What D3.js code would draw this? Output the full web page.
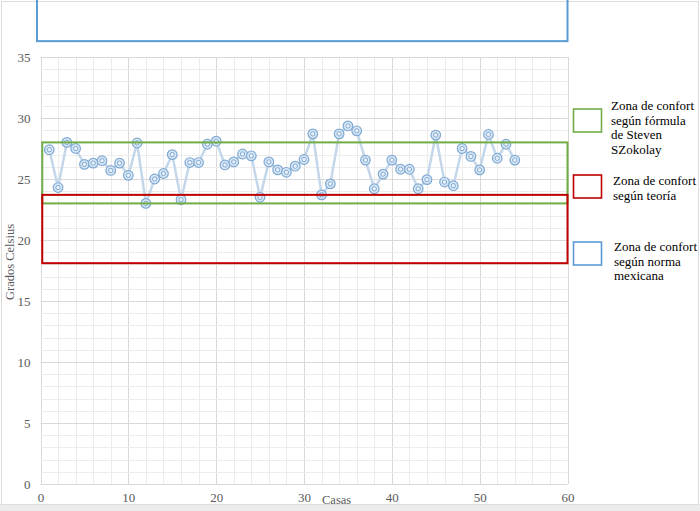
<!DOCTYPE html>
<html><head><meta charset="utf-8">
<script src="https://cdn.jsdelivr.net/npm/d3@7"></script>
<style>
html,body{margin:0;padding:0;background:#fff;}
svg{display:block;}
svg text{font-family:"Liberation Serif",serif !important;}
</style></head>
<body>
<svg id="chart" width="700" height="511"></svg>
<script>
// ---- data ----
const casas = d3.range(1, 55);
const temperaturas = [27.4,24.3,28.0,27.5,26.2,26.3,26.5,25.7,26.3,25.3,
  27.95,23.0,25.0,25.45,27.0,23.3,26.35,26.35,27.85,28.1,
  26.15,26.4,27.05,26.9,23.5,26.4,25.75,25.55,26.05,26.6,
  28.7,23.7,24.6,28.7,29.35,28.95,26.55,24.2,25.4,26.55,
  25.8,25.8,24.2,24.95,28.6,24.75,24.45,27.5,26.85,25.75,
  28.65,26.7,27.85,26.55];
const xTicks = [0,10,20,30,40,50,60];
const yTicks = [0,5,10,15,20,25,30,35];
const zoneNames = ["Zona de confort según fórmula de Steven SZokolay","Zona de confort según teoría","Zona de confort según norma mexicana"];
const zoneLow  = [23.0, 18.1, 36.3];
const zoneHigh = [28.0, 23.7, 40.5];
const zoneXStart = [0.2, 0.2, -0.4];
const zoneXEnd = [60, 60, 60];
const zoneColors = ["#70ad47","#c00000","#5b9bd5"];
const legendLines = [["Zona de confort","según fórmula","de Steven","SZokolay"],["Zona de confort","según teoría"],["Zona de confort","según norma","mexicana"]];

// ---- chart ----
const svg = d3.select("#chart");
const FONT = '"Liberation Serif", serif';
const x = d3.scaleLinear().domain([0,60]).range([40.5,567.5]);
const y = d3.scaleLinear().domain([0,35]).range([484,57]);

// outer frame
svg.append("rect").attr("x",0).attr("y",504).attr("width",700).attr("height",7).attr("fill","#ececec");
svg.append("rect").attr("x",1.5).attr("y",1.5).attr("width",697).attr("height",503).attr("fill","none").attr("stroke","#dcdcdc");

// grid
const g = svg.append("g");
g.selectAll("line.vminor").data(d3.range(0,61,2)).join("line")
  .attr("x1",d=>Math.round(x(d))+0.5).attr("x2",d=>Math.round(x(d))+0.5)
  .attr("y1",y(35)).attr("y2",y(0))
  .attr("stroke",d=>d%10===0?"#d9d9d9":"#ececec").attr("stroke-width",1);
g.selectAll("line.hminor").data(d3.range(0,36,1)).join("line")
  .attr("y1",d=>Math.round(y(d))+0.5).attr("y2",d=>Math.round(y(d))+0.5)
  .attr("x1",x(0)).attr("x2",x(60))
  .attr("stroke",d=>d%5===0?"#d9d9d9":"#ececec").attr("stroke-width",1);

// axes labels
const xAxis = d3.axisBottom(x).tickValues(xTicks).tickSize(0).tickPadding(9);
const xa = svg.append("g").attr("transform",`translate(0,${y(0)})`).call(xAxis).attr("font-family",FONT);
xa.select(".domain").remove();
xa.selectAll("text").attr("font-size",13).attr("fill","#595959");
const yAxis = d3.axisLeft(y).tickValues(yTicks).tickSize(0).tickPadding(10);
const ya = svg.append("g").attr("transform",`translate(${x(0)},0)`).call(yAxis).attr("font-family",FONT);
ya.select(".domain").remove();
ya.selectAll("text").attr("font-size",13).attr("fill","#595959");

svg.append("text").attr("x",322).attr("y",504).attr("font-size",12.5).attr("fill","#595959").text("Casas");
svg.append("text").attr("transform","translate(14,262) rotate(-90)").attr("text-anchor","middle")
  .attr("font-size",12.5).attr("fill","#595959").text("Grados Celsius");

// series line
const line = d3.line().x((d,i)=>x(casas[i])).y(d=>y(d));
svg.append("path").datum(temperaturas).attr("d",line)
  .attr("fill","none").attr("stroke","#c4d7ea").attr("stroke-width",2.5).attr("stroke-linejoin","round");

// markers
const mk = svg.append("g").selectAll("g").data(temperaturas).join("g")
  .attr("transform",(d,i)=>`translate(${x(casas[i])},${y(d)})`);
mk.append("circle").attr("r",4.8).attr("fill","#dbe8f5").attr("stroke","#7fa9d3").attr("stroke-width",1.2);
mk.append("circle").attr("r",2.2).attr("fill","#e8f0f9").attr("stroke","#7fa9d3").attr("stroke-width",1);

// zones
svg.append("g").selectAll("rect").data(zoneNames).join("rect")
  .attr("x",(d,i)=>x(zoneXStart[i]))
  .attr("width",(d,i)=>x(zoneXEnd[i])-x(zoneXStart[i]))
  .attr("y",(d,i)=>y(zoneHigh[i]))
  .attr("height",(d,i)=>y(zoneLow[i])-y(zoneHigh[i]))
  .attr("fill","none").attr("stroke",(d,i)=>zoneColors[i]).attr("stroke-width",2);

// legend
const legY = [109,175,242];
const legTextY = [106,181,247];
const lg = svg.append("g").selectAll("g").data(zoneNames).join("g");
lg.append("rect").attr("x",573.5).attr("y",(d,i)=>legY[i]).attr("width",28).attr("height",23)
  .attr("fill","#fff").attr("stroke",(d,i)=>zoneColors[i]).attr("stroke-width",1.6);
lg.each(function(d,i){
  const t = d3.select(this).append("text").attr("font-family",FONT).attr("font-size",13).attr("fill","#000");
  legendLines[i].forEach((s,j)=>{
    t.append("tspan").attr("x",[611,613,614][i]).attr("y",legTextY[i]+4+j*14.6).text(s);
  });
});
</script>
</body></html>
